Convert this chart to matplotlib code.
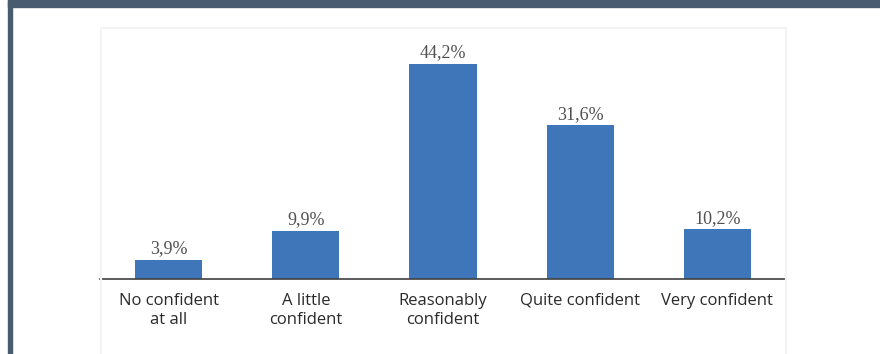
import matplotlib
matplotlib.use("Agg")
import matplotlib.pyplot as plt
from matplotlib.patches import Rectangle

# Survey answers: level of confidence
categories = ["No confident\nat all", "A little\nconfident", "Reasonably\nconfident",
              "Quite confident", "Very confident"]
percent = [3.9, 9.9, 44.2, 31.6, 10.2]
value_labels = ["3,9%", "9,9%", "44,2%", "31,6%", "10,2%"]

W, H = 880, 354
fig = plt.figure(figsize=(W / 100, H / 100), dpi=100)
fig.patch.set_facecolor("white")

# dark frame: top band and left bar
frame_col = "#485b71"
fig.patches.append(Rectangle((8 / W, 1 - 7 / H), 1 - 8 / W, 7 / H, transform=fig.transFigure,
                             color=frame_col, zorder=0))
fig.patches.append(Rectangle((8 / W, 0), 4 / W, 1, transform=fig.transFigure,
                             color=frame_col, zorder=0))
# faint chart-area border (bottom edge runs off the image)
fig.patches.append(Rectangle((101 / W, -0.05), (786 - 101) / W, 1 - 28 / H + 0.05,
                             transform=fig.transFigure, fill=False,
                             edgecolor="#f4f4f4", lw=1.5, zorder=0))

ax = fig.add_axes([100 / W, (H - 279) / H, 686 / W, (279 - 36) / H])
x = range(len(categories))
bars = ax.bar(x, percent, width=0.49, color="#3f76b9", zorder=2)

ax.set_xlim(-0.5, 4.5)
ax.set_ylim(0, 50)
for sp in ["top", "right", "left"]:
    ax.spines[sp].set_visible(False)
ax.spines["bottom"].set_color("#404040")
ax.spines["bottom"].set_linewidth(1.2)
ax.set_yticks([])
ax.set_xticks(list(x))
ax.set_xticklabels(categories, fontsize=12, family="Open Sans", color="#2a2a2a", linespacing=1.3)
ax.tick_params(axis="x", length=0, pad=10)
ax.patch.set_alpha(0)

for b, lab in zip(bars, value_labels):
    ax.annotate(lab, (b.get_x() + b.get_width() / 2, b.get_height()),
                xytext=(0, 2), textcoords="offset points", ha="center", va="bottom",
                fontsize=13, family="Liberation Serif", color="#505050")

fig.savefig("out.png", dpi=100)
